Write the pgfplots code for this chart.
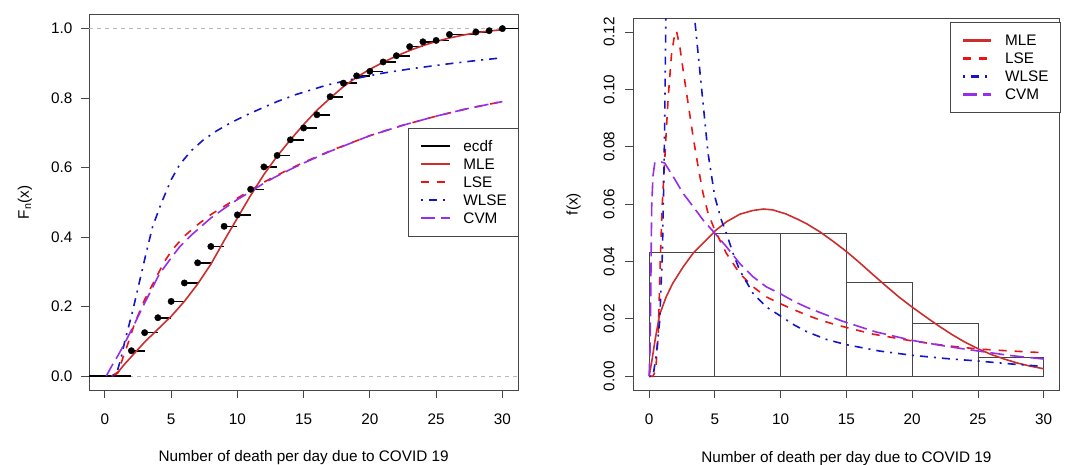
\documentclass[border=0pt]{standalone}
\usepackage{fontspec}
\setmainfont{Liberation Sans}
\usepackage{pgfplots}
\pgfplotsset{compat=1.18}

\definecolor{cMLE}{RGB}{205,45,45}
\definecolor{cLSE}{RGB}{235,20,20}
\definecolor{cWLSE}{RGB}{20,20,200}
\definecolor{cCVM}{RGB}{150,45,235}
\definecolor{frm}{RGB}{70,70,70}

\newcommand{\fs}{\fontsize{15.3}{18}\selectfont}
\newcommand{\lgd}[1]{\hspace*{12.7pt}#1}

\pgfplotsset{
  rplot/.style={
    scale only axis,
    anchor=south west,
    xmin=-1.2, xmax=31.2,
    axis line style={draw=frm, line width=0.9pt},
    tick style={draw=frm, line width=0.9pt},
    tick align=outside,
    tick pos=left,
    major tick length=8pt,
    xtick={0,5,10,15,20,25,30},
    font=\fs,
    ticklabel style={font=\fs},
    label style={font=\fs},
    /pgf/number format/assume math mode=true,
    xticklabel style={yshift=-12pt},
    legend style={font=\fs, draw=frm, line width=0.9pt, fill=white,
      inner xsep=11.5pt, inner ysep=9pt,
      nodes={inner sep=0pt, text height=14.5pt, text depth=3.5pt, anchor=west}},
    legend cell align=left,
    legend image code/.code={\draw[##1, line width=2.2pt] (0pt,0pt) -- (28.3pt,0pt);},
  },
  lMLE/.style={cMLE, line width=1.6pt, solid},
  lLSE/.style={cLSE, line width=1.6pt, dash pattern=on 8pt off 8pt},
  lWLSE/.style={cWLSE, line width=1.6pt, dash pattern=on 2pt off 6pt on 8pt off 6pt},
  lCVM/.style={cCVM, line width=1.6pt, dash pattern=on 14pt off 6pt},
}

\begin{document}
\begin{tikzpicture}
\useasboundingbox (0,0) rectangle (1067pt,464pt);

% ---------------- left panel: CDF ----------------
\begin{axis}[rplot, at={(89pt,74pt)}, width=429.3pt, height=375.3pt,
  ymin=-0.04, ymax=1.04,
  ytick={0,0.2,0.4,0.6,0.8,1}, yticklabels={0.0,0.2,0.4,0.6,0.8,1.0},
  yticklabel style={xshift=-5pt},
  xlabel={Number of death per day due to COVID 19},
  xlabel style={at={(axis description cs:0.5,-0.1915)}, anchor=base},
  ylabel={F\textsubscript{n}(x)},
  ylabel style={at={(axis description cs:-0.149,0.5)}, anchor=center},
  legend style={at={(axis description cs:0.7438,0.6989)}, anchor=north west},
]
\addplot[gray!55, line width=0.8pt, dash pattern=on 4pt off 4pt, forget plot] coordinates {(-1.2,0) (31.2,0)};
\addplot[gray!55, line width=0.8pt, dash pattern=on 4pt off 4pt, forget plot] coordinates {(-1.2,1) (31.2,1)};
% ecdf steps
\addplot[black, line width=1.6pt, jump mark left, forget plot] coordinates {
(-3,0) (2,0.073) (3,0.125) (4,0.168) (5,0.215) (6,0.268) (7,0.326) (8,0.373) (9,0.431) (10,0.464)
(11,0.5375) (12,0.602) (13,0.635) (14,0.680) (15,0.714) (16,0.752) (17,0.804) (18,0.843) (19,0.864)
(20,0.877) (21,0.904) (22,0.922) (23,0.948) (24,0.962) (25,0.966) (26,0.983) (28,0.990) (29,0.994) (30,1.0) (33,1.0)};
\addplot[only marks, mark=*, mark size=3.2pt, black, forget plot] coordinates {
(2,0.073) (3,0.125) (4,0.168) (5,0.215) (6,0.268) (7,0.326) (8,0.373) (9,0.431) (10,0.464)
(11,0.5375) (12,0.602) (13,0.635) (14,0.680) (15,0.714) (16,0.752) (17,0.804) (18,0.843) (19,0.864)
(20,0.877) (21,0.904) (22,0.922) (23,0.948) (24,0.962) (25,0.966) (26,0.983) (28,0.990) (29,0.994) (30,1.0)};
% MLE
\addplot[lMLE, forget plot] coordinates {
(0.5,0) (1,0.012) (1.5,0.035) (2,0.056) (3,0.098) (4,0.135) (5,0.172) (6,0.215) (7,0.265) (8,0.322)
(9,0.39) (10,0.455) (11,0.52) (12,0.58) (13,0.633) (14,0.68) (15,0.724) (16,0.765) (17,0.8) (18,0.833)
(19,0.86) (20,0.883) (21,0.903) (22,0.921) (23,0.937) (24,0.951) (25,0.963) (26,0.973) (27,0.981)
(28,0.988) (29,0.993) (30,0.997)};
% LSE
\addplot[lLSE, forget plot] coordinates {
(0.6,0) (1,0.01) (1.36,0.053) (1.8,0.1) (2.23,0.15) (3,0.22) (3.87,0.284) (4.5,0.33) (5.12,0.365)
(6,0.403) (6.87,0.432) (8,0.465) (9.4,0.498) (10,0.512) (11,0.535) (12,0.558) (13,0.578) (14,0.597)
(15,0.615) (17,0.648) (20,0.692) (22.5,0.722) (25,0.748) (27.5,0.771) (30,0.79)};
% WLSE
\addplot[lWLSE, forget plot] coordinates {
(0.6,0) (0.9,0.01) (1.23,0.053) (1.5,0.1) (2.1,0.188) (2.6,0.27) (3.1,0.352) (3.6,0.43) (4.24,0.496)
(5,0.565) (5.63,0.608) (6.5,0.648) (7.38,0.678) (8.4,0.705) (9.4,0.727) (10.6,0.75) (11.9,0.772)
(13,0.79) (14.4,0.81) (16.8,0.838) (19,0.857) (21,0.872) (23.2,0.885) (25.8,0.898) (28,0.908) (30,0.916)};
% CVM
\addplot[lCVM, forget plot] coordinates {
(0.1,0) (0.5,0.028) (1,0.06) (1.5,0.095) (2.1,0.14) (3,0.21) (4.1,0.293) (5,0.34) (5.6,0.37) (6.5,0.405)
(7.1,0.425) (8,0.455) (9.4,0.493) (10,0.508) (11,0.531) (12,0.555) (13,0.576) (14,0.595) (15,0.613)
(17,0.647) (20,0.692) (22.5,0.722) (25,0.748) (27.5,0.771) (30,0.79)};
\addlegendimage{black}\addlegendentry{\lgd{ecdf}}
\addlegendimage{cMLE}\addlegendentry{\lgd{MLE}}
\addlegendimage{cLSE, dash pattern=on 8pt off 8pt}\addlegendentry{\lgd{LSE}}
\addlegendimage{cWLSE, dash pattern=on 2pt off 6pt on 8pt off 6pt}\addlegendentry{\lgd{WLSE}}
\addlegendimage{cCVM, dash pattern=on 14pt off 6pt}\addlegendentry{\lgd{CVM}}
\end{axis}

% ---------------- right panel: PDF ----------------
\begin{axis}[rplot, at={(633.3pt,74pt)}, width=426.2pt, height=371.7pt,
  ymin=-0.0048, ymax=0.1248,
  ytick={0,0.02,0.04,0.06,0.08,0.1,0.12}, yticklabels={0.00,0.02,0.04,0.06,0.08,0.10,0.12},
  yticklabel style={rotate=90, anchor=south, inner ysep=10.5pt},
  xlabel={Number of death per day due to COVID 19},
  xlabel style={at={(axis description cs:0.5,-0.1937)}, anchor=base},
  ylabel={f(x)},
  ylabel style={at={(axis description cs:-0.140,0.5)}, anchor=center},
  legend style={at={(axis description cs:0.7431,0.990)}, anchor=north west},
]
\addplot[ybar interval, draw=frm, line width=0.9pt, fill=none, forget plot] coordinates {
(0,0.043) (5,0.0497) (10,0.0497) (15,0.0328) (20,0.0184) (25,0.0066) (30,0.0066)};
% MLE
\addplot[lMLE, forget plot] coordinates {
(0,0) (0.2,0.005) (0.45,0.0125) (0.8,0.0215) (1.3,0.0277) (1.8,0.0324) (2.6,0.0382) (3.35,0.0429)
(4.35,0.0475) (5.05,0.0508) (5.9,0.0539) (6.9,0.0565) (7.9,0.0578) (8.7,0.0583) (9.4,0.058)
(10.4,0.0566) (11.4,0.0545) (12,0.0531) (13,0.0503) (14,0.047) (15,0.0435) (16,0.0396) (17,0.0355)
(18,0.0315) (19,0.0276) (20,0.0241) (21,0.0208) (22,0.0176) (23,0.0146) (24,0.0119) (25,0.0096)
(26,0.0076) (27,0.006) (28,0.0046) (29,0.0035) (30,0.0026)};
% LSE
\addplot[lLSE, forget plot] coordinates {
(0,0) (0.3,0) (0.5,0.002) (0.7,0.015) (0.85,0.04) (1.0,0.06) (1.15,0.072) (1.3,0.085) (1.45,0.097)
(1.7,0.112) (1.95,0.1195) (2.08,0.1204) (2.33,0.1151) (2.58,0.107) (2.96,0.0953) (3.34,0.0837)
(3.72,0.0732) (4.1,0.0638) (4.48,0.0569) (4.99,0.051) (5.87,0.0429) (6.88,0.0359) (7.9,0.0312)
(8.9,0.0277) (9.92,0.0254) (11.06,0.0231) (12,0.0213) (13,0.0196) (14,0.0182) (15,0.017) (17,0.0147)
(20,0.0123) (22.5,0.0107) (25,0.0095) (27.5,0.0088) (30,0.0082)};
% WLSE
\addplot[lWLSE, forget plot] coordinates {
(0,0) (0.3,0) (0.56,0.0079) (0.81,0.0196) (1.01,0.0429) (1.11,0.0662) (1.19,0.0895) (1.27,0.1244)
(1.35,0.16) (2.4,0.2) (3.4,0.16) (3.47,0.1244) (3.72,0.1128) (4.1,0.0953) (4.48,0.0778) (4.99,0.0627)
(5.49,0.0545) (5.87,0.0499) (6.38,0.0429) (6.88,0.037) (7.9,0.0289) (8.9,0.0242) (9.92,0.0212)
(11.06,0.0178) (12,0.0155) (13.5,0.0128) (15,0.011) (17.5,0.0088) (20,0.0073) (22.5,0.0062)
(25,0.0053) (27.5,0.0043) (30,0.0034)};
% CVM
\addplot[lCVM, forget plot] coordinates {
(0,0) (0.08,0.01) (0.15,0.04) (0.2,0.06) (0.3,0.07) (0.43,0.0743) (0.81,0.0749) (1.19,0.0743)
(1.82,0.0697) (2.58,0.0638) (3.34,0.0592) (4.1,0.0545) (4.99,0.0499) (5.87,0.0452) (6.88,0.0394)
(7.9,0.0347) (8.9,0.0312) (9.92,0.0289) (11.06,0.026) (12,0.024) (13,0.0222) (14.7,0.0192)
(17.2,0.0155) (20,0.0125) (22.5,0.0105) (25,0.0088) (27.5,0.0072) (30,0.006)};
\addlegendimage{cMLE}\addlegendentry{\lgd{MLE}}
\addlegendimage{cLSE, dash pattern=on 8pt off 8pt}\addlegendentry{\lgd{LSE}}
\addlegendimage{cWLSE, dash pattern=on 2pt off 6pt on 8pt off 6pt}\addlegendentry{\lgd{WLSE}}
\addlegendimage{cCVM, dash pattern=on 14pt off 6pt}\addlegendentry{\lgd{CVM}}
\end{axis}
\end{tikzpicture}
\end{document}
